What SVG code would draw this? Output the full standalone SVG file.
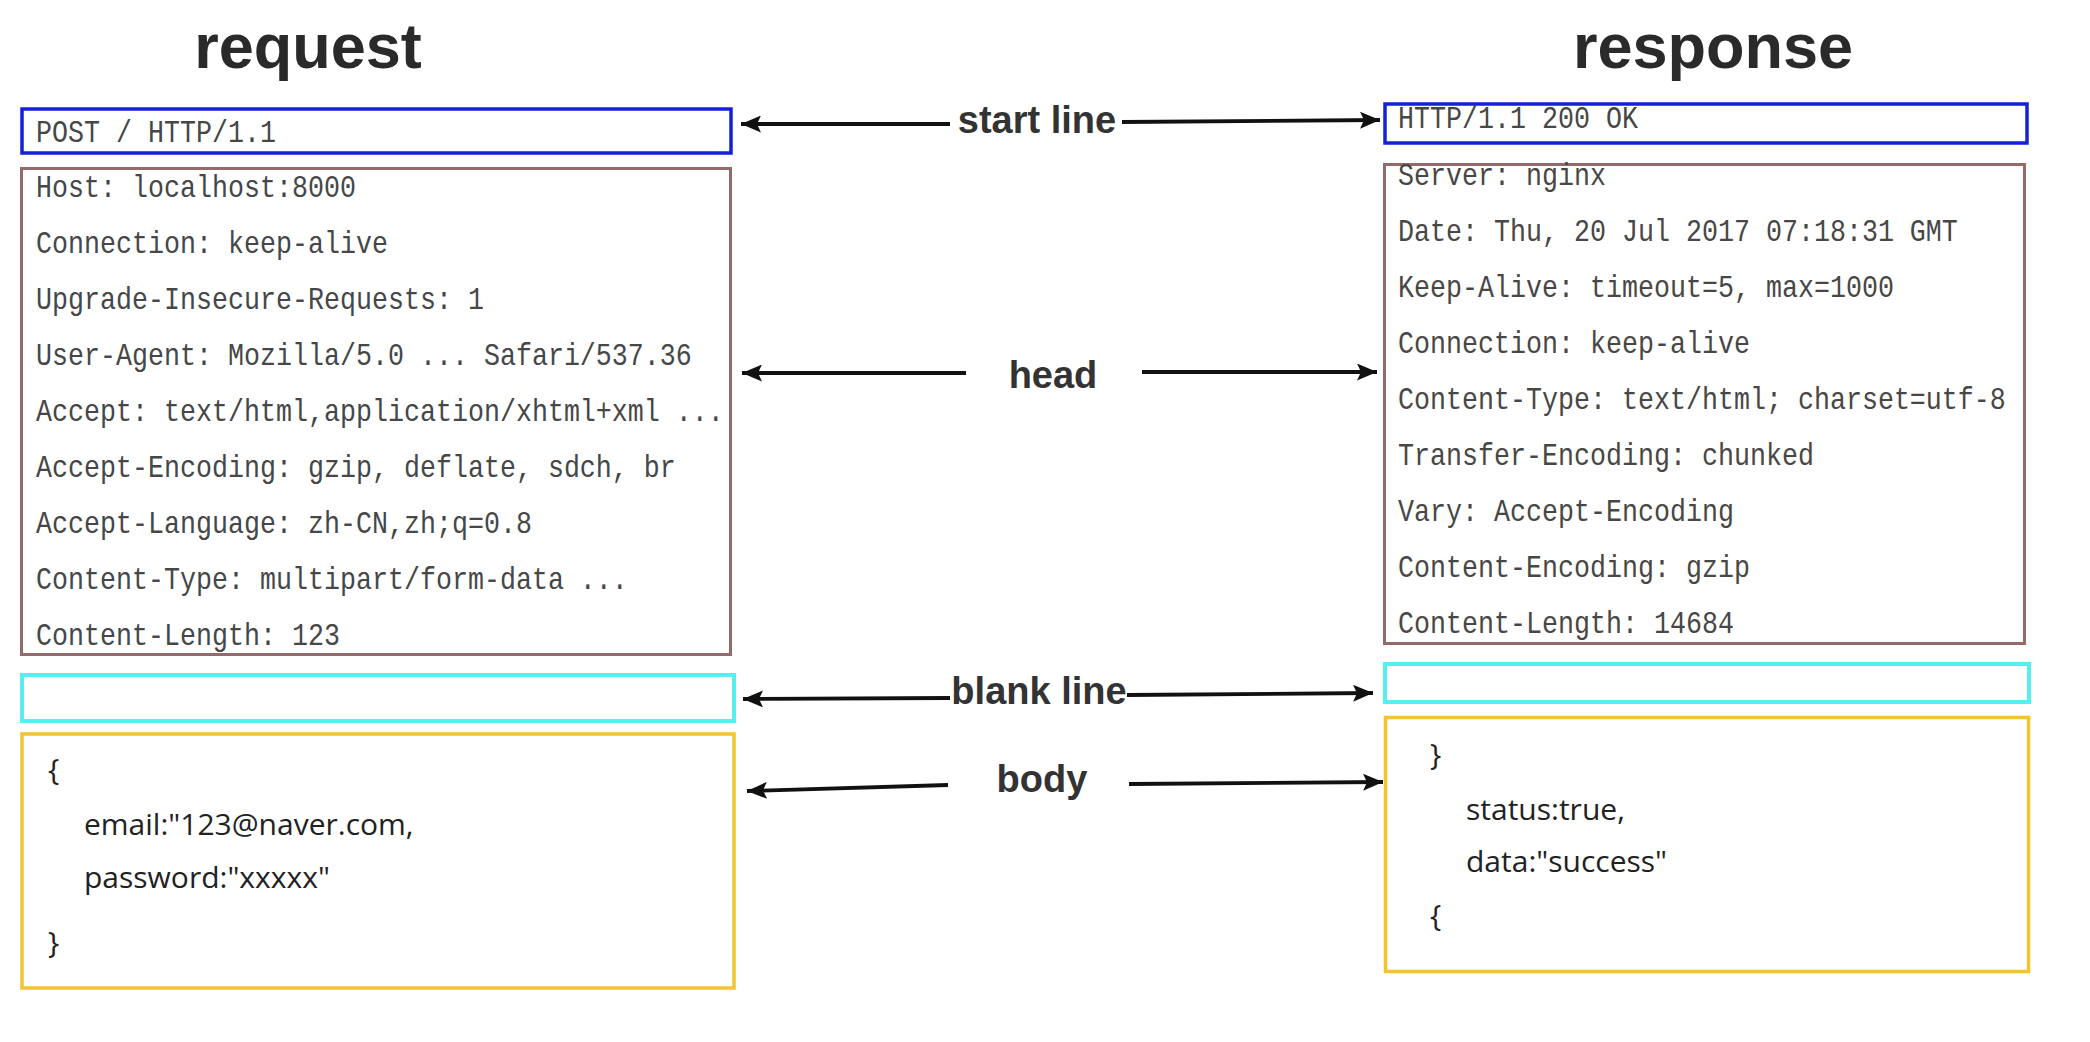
<svg xmlns="http://www.w3.org/2000/svg" width="2090" height="1042" viewBox="0 0 2090 1042">
<defs>
<marker id="ah" markerUnits="userSpaceOnUse" markerWidth="21" markerHeight="17" refX="20" refY="8.5" orient="auto">
<path d="M0,0 L20,8.5 L0,17 L4,8.5 z" fill="#111"/>
</marker>
<style>
.title{font-family:"Liberation Sans",Arial,sans-serif;font-weight:bold;font-size:63px;fill:#2a2a2a;text-anchor:middle}
.lbl{font-family:"Liberation Sans",Arial,sans-serif;font-weight:bold;font-size:38px;fill:#333;text-anchor:middle}
.mono{font-family:"Liberation Mono","Courier New",monospace;font-size:31px;fill:#474747}
.body{font-family:"Open Sans","Noto Sans",sans-serif;font-size:30px;fill:#222}
.blue{fill:none;stroke:#1420d8;stroke-width:3.5}
.brown{fill:none;stroke:#946a6a;stroke-width:3}
.cyan{fill:none;stroke:#55eef2;stroke-width:4}
.yellow{fill:none;stroke:#f4c232;stroke-width:3.5}
.conn{stroke:#111;stroke-width:3.8;fill:none;marker-end:url(#ah)}
</style>
</defs>
<rect width="2090" height="1042" fill="#fff"/>

<g id="title-request"><text class="title" x="308" y="68">request</text></g>
<g id="title-response"><text class="title" x="1713" y="68">response</text></g>

<g id="req-start">
<rect class="blue" x="22" y="109" width="709" height="44"/>
<g transform="scale(0.86 1)"><text class="mono" x="41.9" y="142">POST / HTTP/1.1</text></g>
</g>
<g id="req-head">
<rect class="brown" x="21.5" y="168.5" width="709" height="486"/>
<g transform="scale(0.86 1)">
<text class="mono" x="41.9" y="197">Host: localhost:8000</text>
<text class="mono" x="41.9" y="253">Connection: keep-alive</text>
<text class="mono" x="41.9" y="309">Upgrade-Insecure-Requests: 1</text>
<text class="mono" x="41.9" y="365">User-Agent: Mozilla/5.0 ... Safari/537.36</text>
<text class="mono" x="41.9" y="421">Accept: text/html,application/xhtml+xml ...</text>
<text class="mono" x="41.9" y="477">Accept-Encoding: gzip, deflate, sdch, br</text>
<text class="mono" x="41.9" y="533">Accept-Language: zh-CN,zh;q=0.8</text>
<text class="mono" x="41.9" y="589">Content-Type: multipart/form-data ...</text>
<text class="mono" x="41.9" y="645">Content-Length: 123</text>
</g>
</g>
<g id="req-blank">
<rect class="cyan" x="22" y="675" width="712" height="46"/>
</g>
<g id="req-body">
<rect class="yellow" x="22" y="734" width="712" height="254"/>
<text class="body" x="48" y="780">{</text>
<text class="body" x="84" y="835">email:"123@naver.com,</text>
<text class="body" x="84" y="888">password:"xxxxx"</text>
<text class="body" x="48" y="953">}</text>
</g>

<g id="res-start">
<rect class="blue" x="1385" y="104" width="642" height="39"/>
<g transform="scale(0.86 1)"><text class="mono" x="1625.6" y="128">HTTP/1.1 200 OK</text></g>
</g>
<g id="res-head">
<rect class="brown" x="1384.5" y="164.5" width="640" height="479"/>
<g transform="scale(0.86 1)">
<text class="mono" x="1625.6" y="185">Server: nginx</text>
<text class="mono" x="1625.6" y="241">Date: Thu, 20 Jul 2017 07:18:31 GMT</text>
<text class="mono" x="1625.6" y="297">Keep-Alive: timeout=5, max=1000</text>
<text class="mono" x="1625.6" y="353">Connection: keep-alive</text>
<text class="mono" x="1625.6" y="409">Content-Type: text/html; charset=utf-8</text>
<text class="mono" x="1625.6" y="465">Transfer-Encoding: chunked</text>
<text class="mono" x="1625.6" y="521">Vary: Accept-Encoding</text>
<text class="mono" x="1625.6" y="577">Content-Encoding: gzip</text>
<text class="mono" x="1625.6" y="633">Content-Length: 14684</text>
</g>
</g>
<g id="res-blank">
<rect class="cyan" x="1385" y="664" width="644" height="38"/>
</g>
<g id="res-body">
<rect class="yellow" x="1385.5" y="717.5" width="643" height="254"/>
<text class="body" x="1430" y="765">}</text>
<text class="body" x="1466" y="820">status:true,</text>
<text class="body" x="1466" y="872">data:"success"</text>
<text class="body" x="1430" y="926">{</text>
</g>

<g id="connectors">
<line class="conn" x1="950" y1="124" x2="741" y2="124"/>
<line class="conn" x1="1122" y1="122" x2="1380" y2="120"/>
<line class="conn" x1="966" y1="373" x2="742" y2="373"/>
<line class="conn" x1="1142" y1="372" x2="1377" y2="372"/>
<line class="conn" x1="950" y1="698" x2="743" y2="699"/>
<line class="conn" x1="1127" y1="695" x2="1373" y2="693"/>
<line class="conn" x1="948" y1="785" x2="747" y2="791"/>
<line class="conn" x1="1129" y1="784" x2="1383" y2="782"/>
</g>
<g id="labels">
<text class="lbl" x="1037" y="133">start line</text>
<text class="lbl" x="1053" y="388">head</text>
<text class="lbl" x="1039" y="704">blank line</text>
<text class="lbl" x="1042" y="792">body</text>
</g>
</svg>
